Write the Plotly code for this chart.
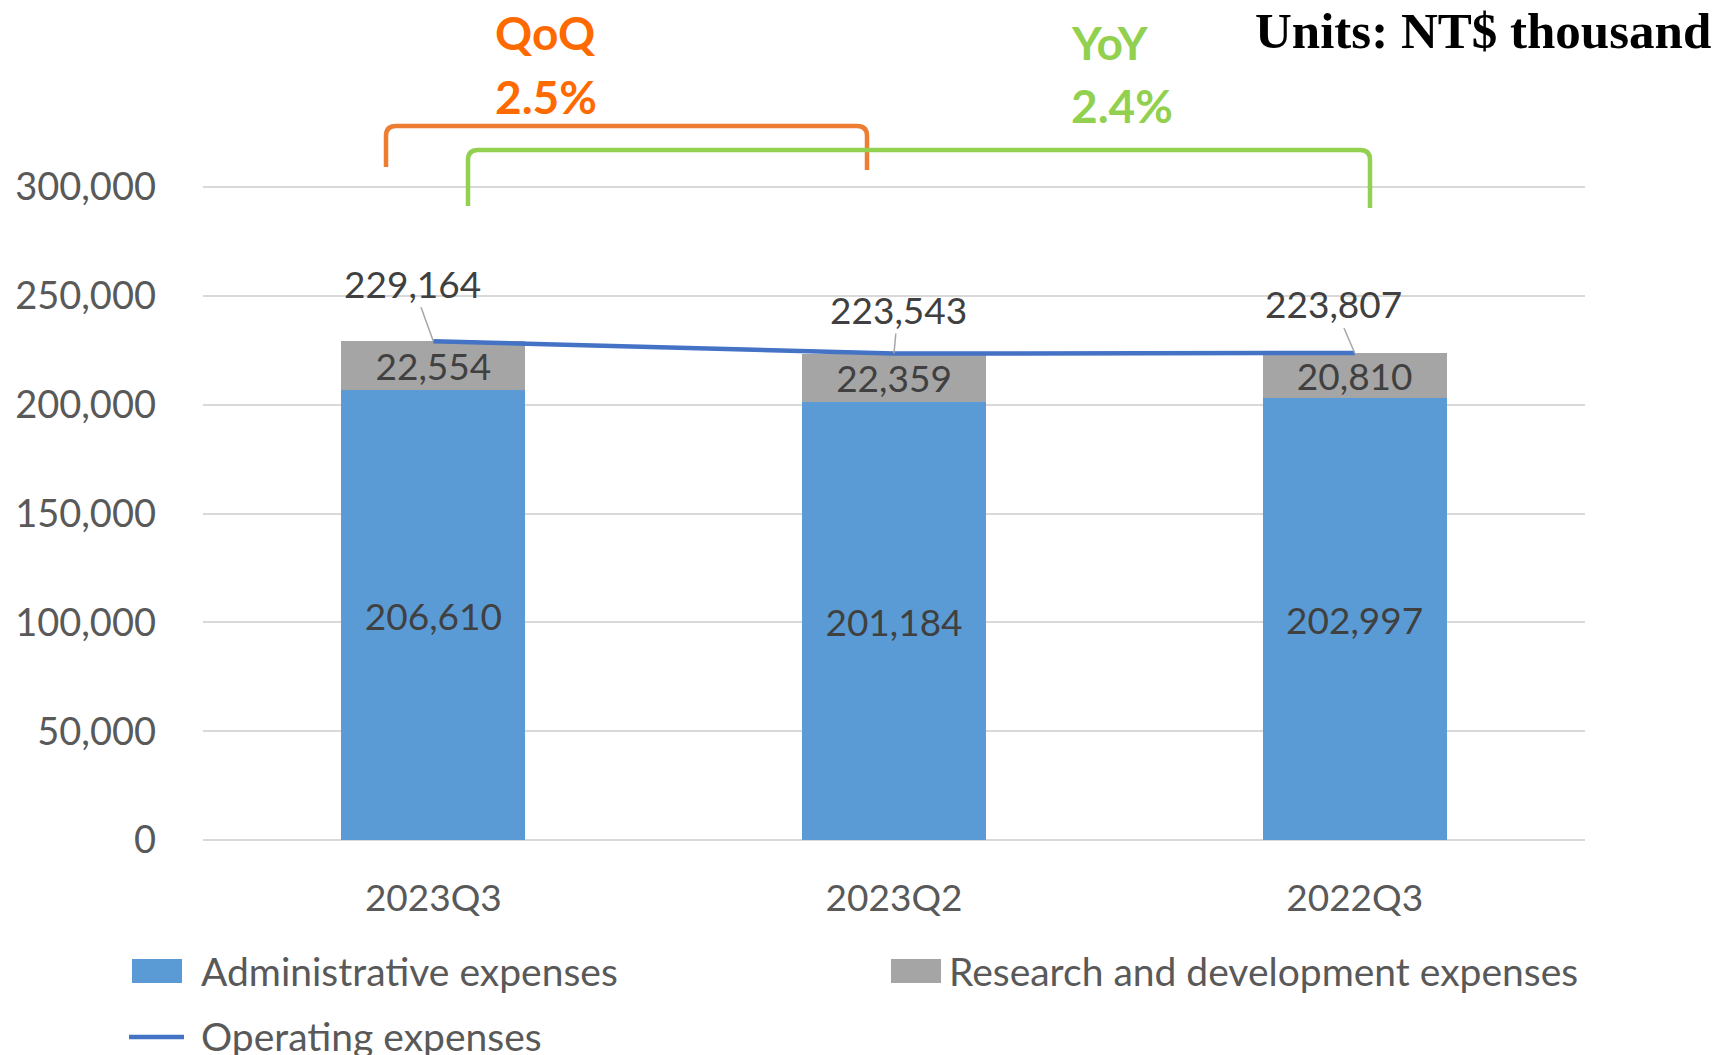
import plotly.graph_objects as go

# ---------------- data ----------------
categories = ["2023Q3", "2023Q2", "2022Q3"]
admin_expenses = [206610, 201184, 202997]
rd_expenses = [22554, 22359, 20810]
operating_expenses = [229164, 223543, 223807]
y_ticks = [0, 50000, 100000, 150000, 200000, 250000, 300000]
series_names = ["Administrative expenses", "Research and development expenses", "Operating expenses"]
qoq_label = "QoQ"
qoq_value = "2.5%"
yoy_label = "YoY"
yoy_value = "2.4%"
units_text = "Units: NT$ thousand"

# ---------------- style / layout ----------------
W_FIG, H_FIG = 1720, 1055
L, R, T, B = 203, 135, 185, 215
PW = W_FIG - L - R
PH = H_FIG - T - B
Y_MAX = 301000

C_ADMIN = "#5B9BD5"
C_RD = "#A5A5A5"
C_LINE = "#4472C4"
C_ORANGE_TXT = "#FF6A00"
C_ORANGE = "#ED7D31"
C_GREEN = "#92D050"
C_TICK = "#595959"
C_LABEL = "#404040"
FONT = "Lato"
FS = 37


def px(x):
    return (x - L) / PW


def py(y):
    return (H_FIG - B - y) / PH


def bracket(x1, yb1, x2, yb2, yt, r=10):
    return (f"M {px(x1)},{py(yb1)} L {px(x1)},{py(yt + r)} "
            f"Q {px(x1)},{py(yt)} {px(x1 + r)},{py(yt)} "
            f"L {px(x2 - r)},{py(yt)} "
            f"Q {px(x2)},{py(yt)} {px(x2)},{py(yt + r)} "
            f"L {px(x2)},{py(yb2)}")


fig = go.Figure()
fig.add_trace(go.Bar(
    x=categories, y=admin_expenses, name=series_names[0],
    marker=dict(color=C_ADMIN, line=dict(width=0)), width=0.4,
    text=[f"{v:,}" for v in admin_expenses], textposition="inside",
    insidetextanchor="middle", textangle=0, constraintext="none",
    textfont=dict(family=FONT, size=FS, color=C_LABEL),
))
fig.add_trace(go.Bar(
    x=categories, y=rd_expenses, name=series_names[1],
    marker=dict(color=C_RD, line=dict(width=0)), width=0.4,
    text=[f"{v:,}" for v in rd_expenses], textposition="inside",
    insidetextanchor="middle", textangle=0, constraintext="none",
    textfont=dict(family=FONT, size=FS, color=C_LABEL),
))
fig.add_trace(go.Scatter(
    x=categories, y=operating_expenses, name=series_names[2],
    mode="lines", line=dict(color=C_LINE, width=4.5),
))

# line data labels with leader lines
offsets = [(-21, -58), (4, -44), (-21, -49)]
annotations = []
for cat, val, (ax, ay) in zip(categories, operating_expenses, offsets):
    annotations.append(dict(
        x=cat, y=val, xref="x", yref="y", text=f"{val:,}",
        showarrow=True, arrowhead=0, arrowwidth=1.5, arrowcolor="#A6A6A6",
        ax=ax, ay=ay, standoff=0,
        font=dict(family=FONT, size=FS, color=C_LABEL),
    ))

# QoQ / YoY texts (left aligned)
for txt, lx, cy, col in [
    (qoq_label, 493, 33, C_ORANGE_TXT), (qoq_value, 493, 96, C_ORANGE_TXT),
    (yoy_label, 1069, 42, C_GREEN), (yoy_value, 1069, 105, C_GREEN),
]:
    annotations.append(dict(
        x=px(lx), y=py(cy), xref="paper", yref="paper", text=f"<b>{txt}</b>",
        showarrow=False, xanchor="left", yanchor="middle",
        font=dict(family=FONT, size=46, color=col),
    ))

annotations.append(dict(
    x=px(1713), y=py(31), xref="paper", yref="paper", text=f"<b>{units_text}</b>",
    showarrow=False, xanchor="right", yanchor="middle",
    font=dict(family="Liberation Serif", size=51, color="#000000"),
))

# brackets and manual legend
shapes = [
    dict(type="path", path=bracket(386, 167, 867, 170, 126), xref="paper", yref="paper",
         line=dict(color=C_ORANGE, width=4.5)),
    dict(type="path", path=bracket(468, 206, 1370, 208, 150), xref="paper", yref="paper",
         line=dict(color=C_GREEN, width=4.5)),
    dict(type="rect", x0=px(132), x1=px(182), y0=py(983), y1=py(959), xref="paper", yref="paper",
         fillcolor=C_ADMIN, line=dict(width=0)),
    dict(type="rect", x0=px(891), x1=px(941), y0=py(983), y1=py(959), xref="paper", yref="paper",
         fillcolor=C_RD, line=dict(width=0)),
    dict(type="line", x0=px(129), x1=px(184), y0=py(1037), y1=py(1037), xref="paper", yref="paper",
         line=dict(color=C_LINE, width=4.5)),
]
for name, lx, ly in [(series_names[0], 199, 971), (series_names[1], 947, 971), (series_names[2], 199, 1036)]:
    annotations.append(dict(
        x=px(lx), y=py(ly), xref="paper", yref="paper", text=name,
        showarrow=False, xanchor="left", yanchor="middle",
        font=dict(family=FONT, size=39, color=C_TICK),
    ))

fig.update_layout(
    width=W_FIG, height=H_FIG,
    margin=dict(l=L, r=R, t=T, b=B, pad=0),
    barmode="stack", bargap=0.6,
    showlegend=False,
    plot_bgcolor="white", paper_bgcolor="white",
    font=dict(family=FONT, size=FS, color=C_TICK),
    annotations=annotations, shapes=shapes,
)
fig.update_xaxes(
    type="category", range=[-0.5, 2.5], showgrid=False, showline=False,
    ticks="", ticklabelstandoff=33,
    tickfont=dict(family=FONT, size=FS, color=C_TICK),
)
fig.update_yaxes(
    range=[0, Y_MAX], tickvals=y_ticks, tickformat=",",
    showgrid=True, gridcolor="#D9D9D9", gridwidth=2,
    zeroline=True, zerolinecolor="#D9D9D9", zerolinewidth=2,
    showline=False, ticks="", ticklabelstandoff=46,
    tickfont=dict(family=FONT, size=38, color=C_TICK),
)

fig.write_html(
    "out.html",
    config={"displayModeBar": False},
    post_script="document.body.style.margin='0';document.body.style.overflow='hidden';",
)
